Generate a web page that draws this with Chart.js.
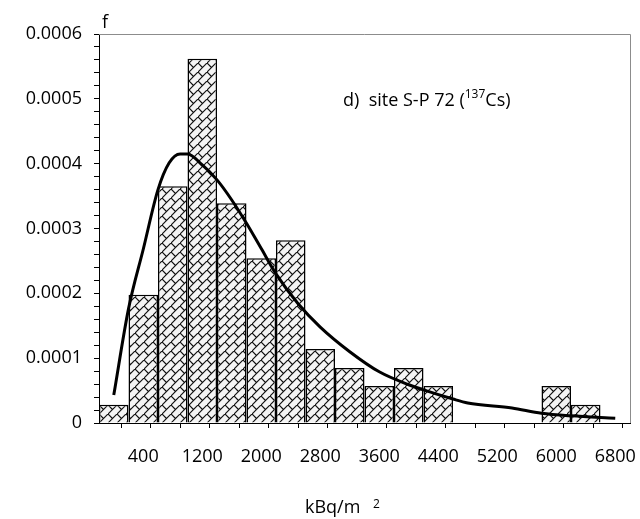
<!DOCTYPE html>
<html>
<head>
<meta charset="utf-8">
<title>site S-P 72 (137Cs)</title>
<script src="https://cdn.jsdelivr.net/npm/chart.js"></script>
<style>
  body { margin: 0; background: #ffffff; }
  #wrap { width: 640px; height: 519px; }
</style>
</head>
<body>
<div id="wrap"><canvas id="myChart" width="640" height="519"></canvas></div>
<script>
// histogram bins (centre, kBq/m2) and frequencies
const binCenters = [0, 400, 800, 1200, 1600, 2000, 2400, 2800, 3200,
  3600, 4000, 4400, 4800, 5200, 5600, 6000, 6400, 6800];
const freq = [0.000028, 0.000198, 0.000365, 0.000562, 0.000339, 0.000254, 0.000282, 0.000114, 0.000085,
  0.000057, 0.000085, 0.000057, 0, 0, 0, 0.000057, 0.000028, 0];

// labelled ticks on the x axis
const xTickLabels = [400, 1200, 2000, 2800, 3600, 4400, 5200, 6000, 6800];

// fitted curve
const curveX = [0, 200, 400, 600, 750, 900, 1000, 1200, 1400, 1600, 1800, 2000, 2200, 2500, 2800,
  3200, 3600, 4000, 4200, 4600, 4800, 5400, 5800, 6200, 6800];
const curveY = [0.000043, 0.000176, 0.000268, 0.000360, 0.000401, 0.000415, 0.000415, 0.000398, 0.000375,
  0.000344, 0.000308, 0.000269, 0.000230, 0.000184, 0.000148, 0.000110, 0.000079, 0.000059,
  0.000051, 0.000037, 0.000031, 0.000023, 0.000015, 0.000011, 0.0000075];

const FONT = "'Open Sans', 'Liberation Sans', sans-serif";

// brick-like hatch for the bars
function makePattern() {
  const c = document.createElement('canvas');
  c.width = 9; c.height = 9;
  const g = c.getContext('2d');
  g.fillStyle = '#f4f4f4';
  g.fillRect(0, 0, 9, 9);
  g.strokeStyle = '#111111';
  g.lineWidth = 1.2;
  g.beginPath();
  g.moveTo(-1, 10); g.lineTo(10, -1);
  g.moveTo(0, 0); g.lineTo(4.5, 4.5);
  g.stroke();
  return g.createPattern(c, 'repeat');
}

const textPlugin = {
  id: 'texts',
  afterDraw(chart) {
    const ctx = chart.ctx;
    const area = chart.chartArea;
    ctx.save();
    // grey frame top / right
    ctx.strokeStyle = '#8c8c8c';
    ctx.lineWidth = 1;
    ctx.beginPath();
    ctx.moveTo(area.left, area.top + 0.5);
    ctx.lineTo(area.right + 0.5, area.top + 0.5);
    ctx.lineTo(area.right + 0.5, area.bottom);
    ctx.stroke();

    ctx.fillStyle = '#000000';
    ctx.textBaseline = 'alphabetic';
    ctx.textAlign = 'left';
    ctx.font = '18px ' + FONT;
    ctx.fillText('f', 102, 28);

    // panel label
    let x = 343;
    const t1 = 'd)  site S-P 72 (';
    ctx.fillText(t1, x, 106);
    x += ctx.measureText(t1).width;
    ctx.font = '12px ' + FONT;
    ctx.fillText('137', x, 98);
    x += ctx.measureText('137').width;
    ctx.font = '18px ' + FONT;
    ctx.fillText('Cs)', x, 106);

    // axis title
    ctx.fillText('kBq/m', 305, 513);
    ctx.font = '12px ' + FONT;
    ctx.fillText('2', 373, 508);
    ctx.restore();
  }
};

const myChart = document.getElementById('myChart');

new Chart(myChart, {
  type: 'bar',
  data: {
    datasets: [{
      type: 'line',
      data: curveX.map((v, i) => ({ x: v, y: curveY[i] })),
      borderColor: '#000000',
      borderWidth: 3,
      pointRadius: 0,
      cubicInterpolationMode: 'monotone',
      fill: false,
      order: 0
    }, {
      data: binCenters.map((v, i) => ({ x: v, y: freq[i] })),
      backgroundColor: makePattern(),
      borderColor: '#000000',
      borderWidth: 1.5,
      grouped: false,
      // ticks are every 200, bins are 400 wide -> twice the tick spacing
      barPercentage: 2,
      categoryPercentage: 1,
      order: 1
    }]
  },
  options: {
    responsive: false,
    animation: false,
    events: [],
    layout: { padding: { top: 34, right: 10, left: 0, bottom: 0 } },
    plugins: { legend: { display: false }, tooltip: { enabled: false } },
    scales: {
      x: {
        type: 'linear',
        min: -200, max: 7000,
        offset: false,
        afterFit: s => { s.height = 96; s.paddingLeft = 0; s.paddingRight = 0; },
        afterBuildTicks: s => {
          // every 200: bin edges get a tick mark, centres may carry a label
          const t = [];
          for (let v = -200; v <= 7000; v += 200) t.push({ value: v });
          s.ticks = t;
        },
        grid: {
          display: true, drawOnChartArea: false, drawTicks: true, tickLength: 5,
          tickColor: c => ((c.tick && (c.tick.value + 200) % 400 === 0) ? '#000000' : 'rgba(0,0,0,0)')
        },
        border: { display: true, color: '#000000', width: 1 },
        ticks: {
          autoSkip: false, maxRotation: 0, minRotation: 0, padding: 18,
          color: '#000000', font: { family: FONT, size: 18 },
          callback: v => (xTickLabels.includes(v) ? String(v) : '')
        }
      },
      y: {
        min: 0, max: 0.0006,
        afterFit: s => { s.width = 99; },
        grid: { display: true, drawOnChartArea: false, drawTicks: true, tickLength: 5, color: '#000000' },
        border: { display: true, color: '#000000', width: 1 },
        ticks: {
          stepSize: 0.00002, autoSkip: false, padding: 12,
          color: '#000000', font: { family: FONT, size: 18 },
          callback: function (v) {
            const k = Math.round(v * 100000);
            if (k % 10 !== 0) return '';
            return k === 0 ? '0' : (k / 100000).toFixed(4);
          }
        }
      }
    }
  },
  plugins: [textPlugin]
});
</script>
</body>
</html>
